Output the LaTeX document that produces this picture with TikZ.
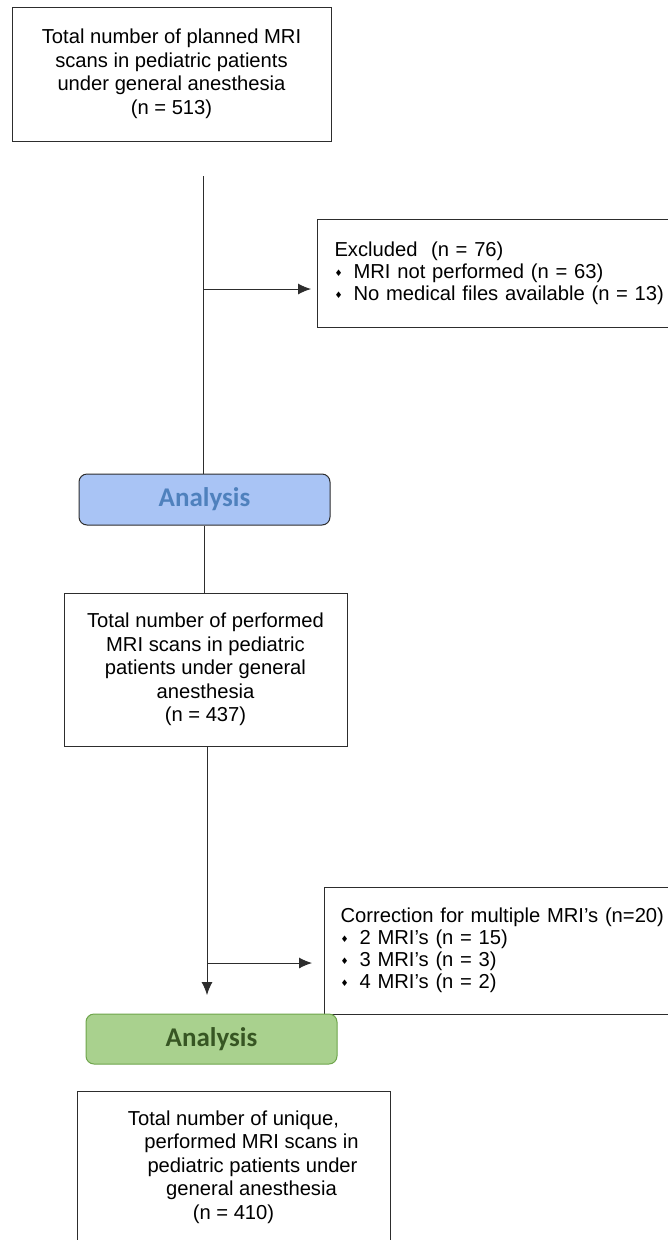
\documentclass[tikz,border=0pt]{standalone}
\usepackage{fontspec}
\setmainfont{Liberation Sans}
\newfontfamily\phasefont{Carlito}
\newfontfamily\symfont{DejaVu Sans}
\usetikzlibrary{arrows.meta}

\definecolor{lineclr}{RGB}{45,45,45}
\definecolor{phaseblue}{RGB}{169,196,245}
\definecolor{phasebluetext}{RGB}{79,129,189}
\definecolor{phasegreen}{RGB}{169,209,142}
\definecolor{phasegreenline}{RGB}{110,165,75}
\definecolor{phasegreentext}{RGB}{55,86,35}

\newcommand\bulletdia{\raisebox{2pt}{\symfont\fontsize{9}{9}\selectfont ♦}\hspace{11pt}}

\begin{document}
\begin{tikzpicture}[x=1pt,y=-1pt,
    box/.style={draw=lineclr, line width=1pt, rectangle, inner sep=0pt,
      align=center, font=\fontsize{20.2}{23.5}\selectfont},
    sidebox/.style={draw=lineclr, line width=1pt, rectangle, anchor=west,
      inner ysep=0pt, text width=380pt, align=left,
      font=\fontsize{20.2}{22}\selectfont},
    phase/.style={rounded corners=8pt, line width=1pt, minimum width=251pt,
      font=\phasefont\bfseries\fontsize{27}{27}\selectfont},
    link/.style={draw=lineclr, line width=0.9pt},
    >={Latex[length=13pt,width=11pt]}]
  \useasboundingbox (0,0) rectangle (668,1240);
  \clip (0,0) rectangle (668,1240);

  % boxes
  \node[box, minimum width=319pt, minimum height=134pt] (planned) at (171.5,74)
    {Total number of planned MRI\\ scans in pediatric patients\\ under general anesthesia\\ (n = 513)};
  \node[sidebox, inner xsep=17pt, minimum height=108pt] (excluded) at (317,273)
    {Excluded\ \ (n = 76)\\ \bulletdia MRI not performed (n = 63)\\ \bulletdia No medical files available (n = 13)};
  \node[phase, draw=lineclr, fill=phaseblue, text=phasebluetext, minimum height=51pt] (analysis1) at (204.5,499.5) {Analysis};
  \node[box, minimum width=283pt, minimum height=153pt] (performed) at (205.5,669.5)
    {Total number of performed\\ MRI scans in pediatric\\ patients under general\\ anesthesia\\ (n = 437)};
  \node[sidebox, inner xsep=16pt, minimum height=127pt] (correction) at (324,950.5)
    {Correction for multiple MRI’s (n=20)\\ \bulletdia 2 MRI’s (n = 15)\\ \bulletdia 3 MRI’s (n = 3)\\ \bulletdia 4 MRI’s (n = 2)};
  \node[phase, draw=phasegreenline, fill=phasegreen, text=phasegreentext, minimum height=50pt] (analysis2) at (211.5,1039) {Analysis};
  \node[box, minimum width=313pt, minimum height=152pt] (unique) at (233.5,1167)
    {Total number of unique,\\ \hspace*{36pt}performed MRI scans in\\ \hspace*{38pt}pediatric patients under\\ \hspace*{36pt}general anesthesia\\ (n = 410)};

  % connectors
  \coordinate (trunk) at (203,176);
  \coordinate (split1) at (204,289);
  \coordinate (split2) at (207,963);
  \coordinate (stop) at (207,995);
  \draw[link] (trunk) -- (trunk |- analysis1.north);
  \draw[link] (analysis1.south) -- (analysis1.south |- performed.north);
  \draw[link, ->] (performed.south -| stop) -- (stop);
  \foreach \s/\B/\g in {split1/excluded/6, split2/correction/12}
    \draw[link, ->, shorten >=\g pt] (\s) -- (\s -| \B.west);
\end{tikzpicture}
\end{document}
